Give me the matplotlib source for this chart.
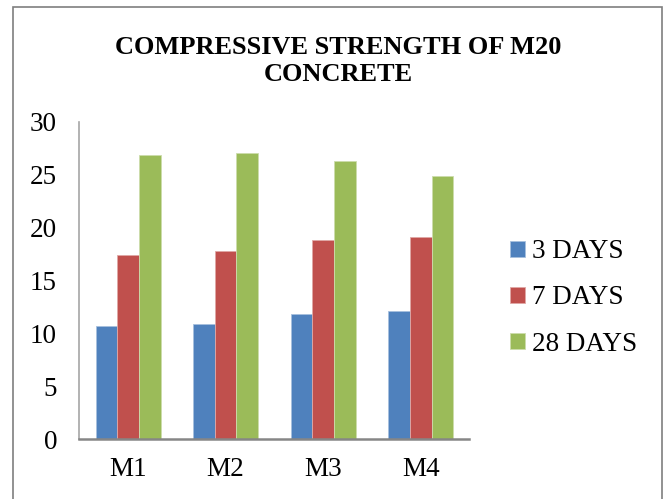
import matplotlib
matplotlib.use("Agg")
import matplotlib.pyplot as plt
from matplotlib.patches import Rectangle
import numpy as np

plt.rcParams['font.family'] = ['Liberation Serif', 'DejaVu Serif']

# Compressive strength (N/mm^2) of M20 mixes
mixes = ["M1", "M2", "M3", "M4"]
series_names = ["3 DAYS", "7 DAYS", "28 DAYS"]
strength_3d = [10.7, 10.87, 11.84, 12.13]
strength_7d = [17.45, 17.77, 18.87, 19.12]
strength_28d = [26.83, 27.0, 26.28, 24.9]
yticks = [0, 5, 10, 15, 20, 25, 30]

colors = ["#4F81BD", "#C0504D", "#9BBB59"]
edges = ["#A7C0DE", "#E0A8A6", "#CDDDAC"]

W, H = 664, 499
fig = plt.figure(figsize=(W / 100, H / 100), dpi=100)

# chart frame
fig.patches.append(Rectangle((12.7 / W, -0.05), (662 - 12.7) / W, 1.05 - 7 / H,
                             transform=fig.transFigure, fill=False,
                             edgecolor="#7F7F7F", linewidth=1.2))

ax = fig.add_axes([79.3 / W, (H - 439.3) / H, (469.5 - 79.3) / W, (439.3 - 121.7) / H])

x = np.arange(len(mixes))
bw = 0.2222
all_series = [strength_3d, strength_7d, strength_28d]
for i, (vals, name) in enumerate(zip(all_series, series_names)):
    ax.bar(x + (i - 1) * bw, vals, width=bw, color=colors[i], edgecolor=edges[i],
           linewidth=0.6, label=name, zorder=2)

ax.set_xlim(-0.5, len(mixes) - 0.5)
ax.set_ylim(0, 30)
ax.set_yticks(yticks)
ax.set_yticklabels([str(t) for t in yticks])
ax.set_xticks(x)
ax.set_xticklabels(mixes)
ax.tick_params(axis="both", length=0, labelsize=19.5, colors="black")
ax.tick_params(axis="y", pad=16)
ax.tick_params(axis="x", pad=13)

for side in ["top", "right"]:
    ax.spines[side].set_visible(False)
ax.spines["left"].set_color("#A6A6A6")
ax.spines["left"].set_linewidth(1.2)
ax.spines["bottom"].set_color("#868686")
ax.spines["bottom"].set_linewidth(1.8)

fig.text(338 / W, 1 - 61 / H, "COMPRESSIVE STRENGTH OF M20\nCONCRETE",
         ha="center", va="center", fontsize=19, fontweight="bold",
         linespacing=1.22)

leg = ax.legend(loc="center left", bbox_to_anchor=(510 / W, 1 - 298 / H),
                bbox_transform=fig.transFigure, frameon=False, fontsize=19.5,
                handlelength=0.55, handleheight=0.55, handletextpad=0.25,
                labelspacing=0.78, borderaxespad=0, borderpad=0)

fig.savefig("out.png", dpi=100)
